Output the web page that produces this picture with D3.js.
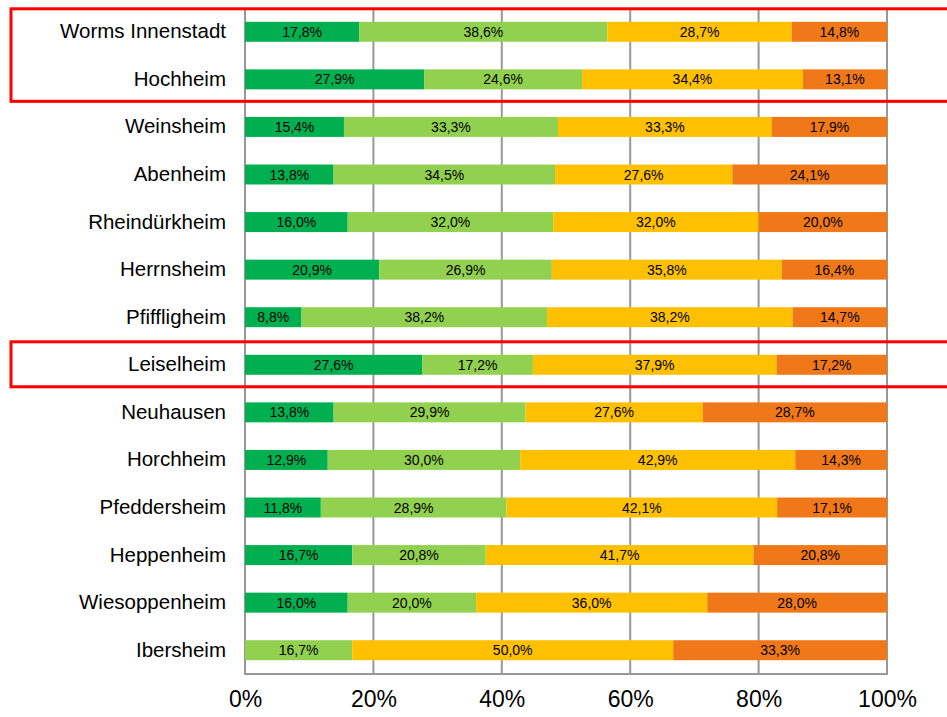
<!DOCTYPE html>
<html><head><meta charset="utf-8">
<script src="https://cdn.jsdelivr.net/npm/d3@7"></script>
<style>body{margin:0;background:#fff}svg{display:block}</style>
</head><body>
<svg id="c" width="947" height="717"></svg>
<script>
const categories = ["Worms Innenstadt","Hochheim","Weinsheim","Abenheim","Rheindürkheim","Herrnsheim","Pfiffligheim","Leiselheim","Neuhausen","Horchheim","Pfeddersheim","Heppenheim","Wiesoppenheim","Ibersheim"];
const s1 = [17.8,27.9,15.4,13.8,16.0,20.9,8.8,27.6,13.8,12.9,11.8,16.7,16.0,0];
const s2 = [38.6,24.6,33.3,34.5,32.0,26.9,38.2,17.2,29.9,30.0,28.9,20.8,20.0,16.7];
const s3 = [28.7,34.4,33.3,27.6,32.0,35.8,38.2,37.9,27.6,42.9,42.1,41.7,36.0,50.0];
const s4 = [14.8,13.1,17.9,24.1,20.0,16.4,14.7,17.2,28.7,14.3,17.1,20.8,28.0,33.3];
const seriesKeys = ["s1","s2","s3","s4"];
const colors = ["#00B050","#92D050","#FFC000","#F07818"];
const tickValues = [0,0.2,0.4,0.6,0.8,1.0];
const highlighted = [["Worms Innenstadt","Hochheim"],["Leiselheim","Leiselheim"]];

const rows = categories.map((c,i)=>({cat:c,s1:s1[i],s2:s2[i],s3:s3[i],s4:s4[i]}));
const stack = d3.stack().keys(seriesKeys).offset(d3.stackOffsetExpand);
const layers = stack(rows);

const svg = d3.select("#c");
const L = 245, R = 887, T = 8, B = 674;
const x = d3.scaleLinear().domain([0,1]).range([L,R]);
const y = d3.scaleBand().domain(categories).range([T,B]).paddingInner(0.58).paddingOuter(0.29);

// gridlines
svg.append("g").selectAll("line").data(tickValues).join("line")
  .attr("x1",d=>x(d)).attr("x2",d=>x(d)).attr("y1",T).attr("y2",B)
  .attr("stroke","#989898").attr("stroke-width",2);
svg.append("line").attr("x1",L-1).attr("x2",R+1).attr("y1",B).attr("y2",B)
  .attr("stroke","#989898").attr("stroke-width",2);

const fmt = v => v.toFixed(1).replace(".",",")+"%";

layers.forEach((layer,k)=>{
  const g = svg.append("g");
  g.selectAll("rect").data(layer).join("rect")
    .attr("x",d=>x(d[0])).attr("width",d=>Math.max(0,x(d[1])-x(d[0])))
    .attr("y",d=>y(d.data.cat)).attr("height",y.bandwidth())
    .attr("fill",colors[k]);
  g.selectAll("text").data(layer.filter(d=>d.data[seriesKeys[k]]>0)).join("text")
    .attr("x",d=>(x(d[0])+x(d[1]))/2).attr("y",d=>y(d.data.cat)+y.bandwidth()/2)
    .attr("text-anchor","middle").attr("dominant-baseline","central")
    .attr("font-family","Liberation Sans, Arial, sans-serif").attr("font-size",14)
    .attr("fill","#000").text(d=>fmt(d.data[seriesKeys[k]]));
});

// category labels
const yAxis = d3.axisLeft(y).tickSize(0).tickPadding(19);
const ya = svg.append("g").attr("transform",`translate(${L},0)`).call(yAxis);
ya.select(".domain").remove();
ya.selectAll("text").attr("font-family","Liberation Sans, Arial, sans-serif").attr("font-size",20.5).attr("fill","#000");

// x axis
const xAxis = d3.axisBottom(x).tickValues(tickValues).tickSize(0).tickPadding(17).tickFormat(d3.format(".0%"));
const xa = svg.append("g").attr("transform",`translate(0,${B})`).call(xAxis);
xa.select(".domain").remove();
xa.selectAll("text").attr("font-family","Liberation Sans, Arial, sans-serif").attr("font-size",23).attr("fill","#000");

// red highlight boxes
highlighted.forEach(([a,b])=>{
  const y0 = y(a) - 13;
  const y1 = y(b) + y.bandwidth() + 12;
  svg.append("rect").attr("x",11).attr("y",y0).attr("width",960).attr("height",y1-y0)
    .attr("fill","none").attr("stroke","#FF0000").attr("stroke-width",3);
});
</script>
</body></html>
